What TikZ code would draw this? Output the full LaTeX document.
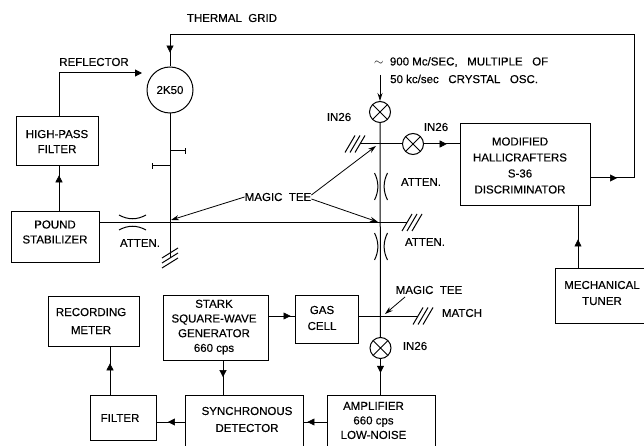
\documentclass[tikz,border=0pt]{standalone}
\usepackage{fontspec}
\setmainfont{Liberation Sans}[FakeBold=0.35]
\usetikzlibrary{arrows.meta, decorations.markings}
\tikzset{
  unitbox/.style={rectangle, draw, line width=1pt, inner sep=0pt, align=center,
                  font=\fontsize{11.5}{15}\selectfont},
  boxtext/.style={inner sep=0pt, align=center, font=\fontsize{11.5}{#1}\selectfont},
  boxtext/.default=15,
  mixer/.style={circle, draw, line width=1pt, inner sep=0pt, minimum size=21pt,
                path picture={
                  \draw[line width=1pt] (path picture bounding box.south west) -- (path picture bounding box.north east)
                    (path picture bounding box.north west) -- (path picture bounding box.south east);}},
  lbl/.style={font=\fontsize{11.5}{14}\selectfont, inner sep=0pt},
  guide/.style={line width=1pt},
  flow/.style={line width=1pt, postaction={decorate},
               decoration={markings, mark=at position #1 with {\arrow[line width=0.5pt]{Triangle[length=7pt,width=7pt]}}}},
  tip/.style={line width=1pt, -{Triangle[length=7pt,width=7pt]}},
  thintip/.style={line width=0.8pt, -{Stealth[length=8pt,width=5pt]}},
}
\begin{document}
\begin{tikzpicture}[x=1pt, y=-1pt]
  \clip (0,0) rectangle (644,446);
  % boxes
  \node[unitbox, minimum width=82pt, minimum height=49pt] (highpass) at (57,141.5) {HIGH-PASS\\FILTER};
  \node[unitbox, minimum width=88pt, minimum height=51pt] (pound) at (55,236.5) {};
  \node[unitbox, minimum width=130pt, minimum height=82pt] (disc) at (525,165) {};
  \node[unitbox, minimum width=92pt, minimum height=55pt] (tuner) at (601,295.5) {};
  \node[unitbox, minimum width=91pt, minimum height=50pt] (meter) at (93.5,321) {};
  \node[unitbox, minimum width=105pt, minimum height=65pt] (stark) at (215.5,327.5) {};
  \node[unitbox, minimum width=63pt, minimum height=48pt] (gas) at (326.5,319) {};
  \node[unitbox, minimum width=66pt, minimum height=45pt] (filter) at (123,417.5) {};
  \node[unitbox, minimum width=118pt, minimum height=60pt] (sync) at (244,425) {};
  \node[unitbox, minimum width=108pt, minimum height=60pt] (amp) at (381,425) {};
  % text in the boxes
  \node[boxtext] (poundtext) at (55,232) {POUND\\STABILIZER};
  \node[boxtext=16] (disctext) at (520,165.5) {MODIFIED\\HALLICRAFTERS\\S-36\\DISCRIMINATOR};
  \node[boxtext=16] (tunertext) at (602,293) {MECHANICAL\\TUNER};
  \node[boxtext=18] (metertext) at (91,321) {RECORDING\\METER};
  \node[boxtext=14.7] (starktext) at (214,327) {STARK\\SQUARE-WAVE\\GENERATOR\\660 cps};
  \node[boxtext=16] (gastext) at (322,318) {GAS\\CELL};
  \node[boxtext] (filtertext) at (120,418) {FILTER};
  \node[boxtext=17] (synctext) at (247,419.5) {SYNCHRONOUS\\DETECTOR};
  \node[boxtext=14.5] (amptext) at (373.5,420.5) {AMPLIFIER\\660 cps\\LOW-NOISE};
  % klystron and crystals
  \node[unitbox, circle, minimum size=46pt] (klystron) at (170,90) {2K50};
  \node[mixer] (mixtop) at (380,112) {};
  \node[mixer] (mixright) at (413,144) {};
  \node[mixer] (mixlow) at (380.5,348) {};
  % junctions and ends of the guides
  \coordinate (teeleft) at (171,220);
  \coordinate (teeright) at (378,222);
  \coordinate (teeupper) at (376,146);
  \coordinate (teelower) at (385,314);
  \coordinate (endleft) at (170,258);
  \coordinate (endright) at (407,222.5);
  \coordinate (endupper) at (360,144);
  \coordinate (endmatch) at (418,316);
  \coordinate (stubright) at (185,151);
  \coordinate (stubleft) at (152,166);
  % guides
  \draw[guide] (klystron) -- (endleft);
  \draw[guide] (pound.east |- endright) -- (endright);
  \draw[guide] (mixtop) -- (mixlow);
  \draw[guide] (endupper) -- (mixright);
  \draw[guide] (gas.east |- endmatch) -- (endmatch);
  \draw[guide] (stubright) -- (klystron.south |- stubright);
  \draw[guide] (stubleft) -- (klystron.south |- stubleft);
  \foreach \s in {stubright, stubleft}
    \draw[guide] ([yshift=-3pt]\s) -- ([yshift=3pt]\s);
  % matched ends
  \foreach \e/\d in {endupper/-1, endright/1, endmatch/1}
    \foreach \o in {0,1,2}
      \draw[guide] ([xshift=\d*\o*5pt-5pt, yshift=-8.5pt]\e) -- ([xshift=\d*\o*5pt+5pt, yshift=8.5pt]\e);
  \foreach \o in {-5,0,5}
    \draw[guide] ([xshift=-8pt, yshift=\o pt-5pt]endleft) -- ([xshift=8pt, yshift=\o pt+5pt]endleft);
  % attenuators
  \draw[guide] (119,215) .. controls (128,220) and (137,220) .. (146,215);
  \draw[guide] (119,230) .. controls (128,225) and (137,225) .. (146,230);
  \foreach \y in {173,233} {
    \draw[guide] (374.5,\y) .. controls (379,\y+9) and (379,\y+18) .. (374.5,\y+27);
    \draw[guide] (387.5,\y) .. controls (383,\y+9) and (383,\y+18) .. (387.5,\y+27);
  }
  % signal paths
  \coordinate (gridcorner) at (634,35);
  \coordinate (gridin) at (170,35);
  \coordinate (discout) at (634,178);
  \coordinate (reflcorner) at (59,73);
  \coordinate (reflin) at (142,73);
  \coordinate (oscin) at (380,75);
  \draw[flow=0.61] (disc.east |- discout) -- (discout);
  \draw[guide] (discout) -- (gridcorner) -- (gridin);
  \draw[flow=0.56] (gridin) -- (klystron);
  \draw[tip] (highpass.north -| reflcorner) -- (reflcorner) -- (reflin);
  \draw[flow=0.8] (pound.north -| reflcorner) -- (highpass.south -| reflcorner);
  \draw[thintip] (oscin) -- (mixtop);
  \draw[flow=0.64] (mixright) -- (disc.west |- mixright);
  \draw[flow=0.46] (tuner.north -| 578,0) -- (disc.south -| 578,0);
  \draw[flow=0.39] (mixlow) -- (amp.north -| mixlow);
  \draw[flow=0.83] (amp.west |- 0,422) -- (sync.east |- 0,422);
  \draw[flow=0.59] (sync.west |- 0,422) -- (filter.east |- 0,422);
  \draw[flow=0.65] (filter.north -| 110,0) -- (meter.south -| 110,0);
  \draw[flow=0.49] (stark.south -| 223,0) -- (sync.north -| 223,0);
  \draw[flow=0.85] (stark.east |- endmatch) -- (gas.west |- endmatch);
  % magic tee callouts
  \node[lbl] (tee) at (278,197) {MAGIC\ \ TEE};
  \draw[thintip] (tee.west) -- (teeleft);
  \draw[thintip] ([yshift=2pt]tee.east) -- (teeupper);
  \draw[thintip] ([yshift=-2pt]tee.east) -- (teeright);
  \node[lbl] (teelow) at (429,290) {MAGIC\ \ TEE};
  \coordinate (teelowfoot) at (405,297);
  \draw[thintip] (teelowfoot) -- (teelower);
  % labels
  \node[lbl] (gridlbl) at (232,18) {THERMAL\ \ GRID};
  \node[lbl] (refllbl) at (94,62) {REFLECTOR};
  \node[lbl, anchor=west] (crystalone) at (374,62) {$\sim$\ \ 900 Mc/SEC,\ \ \ MULTIPLE\ \ \ OF};
  \node[lbl, anchor=west] (crystaltwo) at (390,79) {50 kc/sec\ \ \ CRYSTAL\ \ \ OSC.};
  \node[lbl] (intop) at (339,117) {IN26};
  \node[lbl] (inright) at (436,127) {IN26};
  \node[lbl] (inlow) at (415,346) {IN26};
  \node[lbl] (attleft) at (140,243) {ATTEN.};
  \node[lbl] (attupper) at (421,182) {ATTEN.};
  \node[lbl] (attlower) at (425,242) {ATTEN.};
  \node[lbl] (matchlbl) at (462,313) {MATCH};
\end{tikzpicture}
\end{document}
